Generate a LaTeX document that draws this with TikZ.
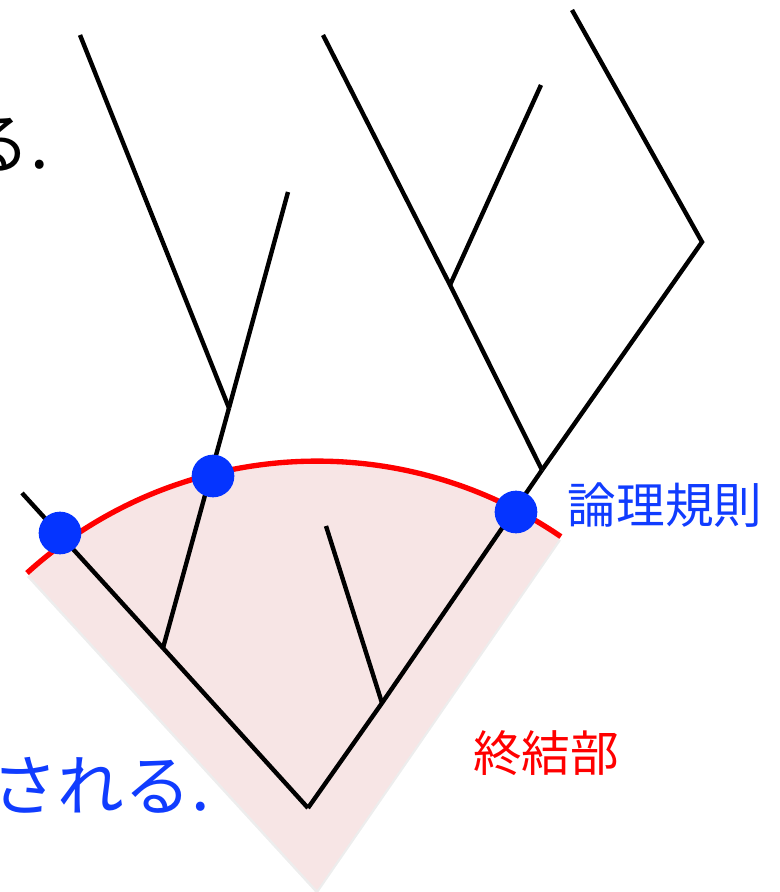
\documentclass[tikz,border=0pt]{standalone}
\usepackage{fontspec}
\usetikzlibrary{calc}
\newfontfamily\jp{Noto Sans CJK JP}
\definecolor{sectorpink}{RGB}{247,229,229}
\definecolor{arcred}{RGB}{255,0,0}
\definecolor{dotblue}{RGB}{5,52,255}
\definecolor{textblue}{RGB}{16,60,255}
\begin{document}
\begin{tikzpicture}[x=0.75pt,y=-0.75pt,
  branch/.style={draw=black,line width=3.3pt},
  rulearc/.style={draw=arcred,line width=4pt},
  ruledot/.style={circle,fill=dotblue,minimum size=32pt,inner sep=0pt},
  bigtext/.style={font=\jp\fontsize{50}{50}\selectfont,inner sep=0pt},
  labeltext/.style={font=\jp\fontsize{36.5}{36.5}\selectfont,inner sep=0pt}]
\useasboundingbox (0,0) rectangle (780,892);
% sector geometry
\coordinate (apex) at (317,890);
\coordinate (arcL) at (27,573);
% shadow and pink sector
\fill[black,opacity=0.07] ($(arcL)+(0,4)$) arc[start angle=-132.2,end angle=-55.6,radius=431.7] -- ($(apex)+(0,4)$) -- cycle;
\fill[sectorpink] (arcL) arc[start angle=-132.2,end angle=-55.6,radius=431.7] -- (apex) -- cycle;
% tree points
\coordinate (L1) at (80,35);
\coordinate (L2) at (288,192);
\coordinate (LJ) at (229,408);
\coordinate (LJ2) at (163,648);
\coordinate (Ltail) at (22,493);
\coordinate (A) at (308,808);
\coordinate (I1) at (326,526);
\coordinate (IJ) at (382,703);
\coordinate (RJ) at (542,470);
\coordinate (R1) at (323,35);
\coordinate (RJ2) at (450,285);
\coordinate (R2) at (541,85);
\coordinate (R3) at (572,10);
\coordinate (RC) at (702,242);
% branches
\draw[branch] (L1) -- (LJ);
\draw[branch] (L2) -- (LJ);
\draw[branch] (LJ) -- (LJ2);
\draw[branch] (Ltail) -- (LJ2) -- (A);
\draw[branch] (I1) -- (IJ);
\draw[branch] (A) -- (IJ) -- (RJ);
\draw[branch] (R1) -- (RJ2) -- (RJ);
\draw[branch] (R2) -- (RJ2);
\draw[branch] (R3) -- (RC) -- (RJ);
% red arc
\draw[rulearc] (arcL) arc[start angle=-132.2,end angle=-55.6,radius=431.7];
% dots
\node[ruledot] (D1) at (60,533) {};
\node[ruledot] (D2) at (213,476) {};
\node[ruledot] (D3) at (516,512) {};
% texts
\node[bigtext,anchor=base east,text=black] (topText) at (49,168) {る.};
\node[bigtext,anchor=base east,text=textblue] (botText) at (210,810) {される.};
\node[labeltext,text=textblue] (ruleLabel) at (665,505) {論理規則};
\node[labeltext,text=arcred] (termLabel) at (546,753) {終結部};
\end{tikzpicture}
\end{document}
